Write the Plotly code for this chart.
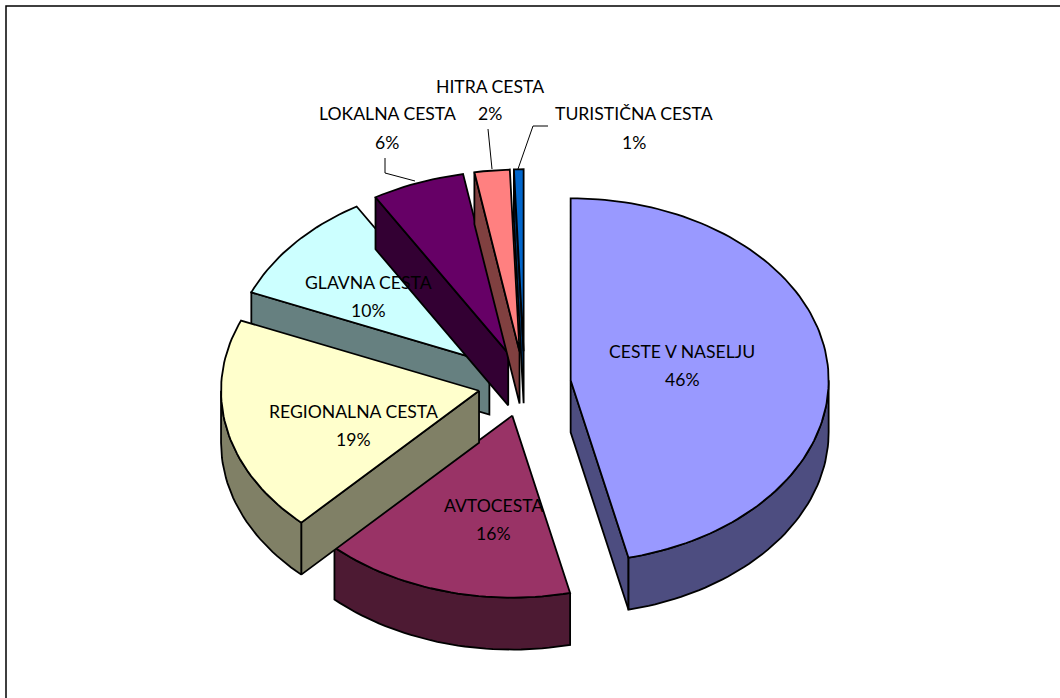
import numpy as np
import plotly.graph_objects as go

categories = ["CESTE V NASELJU", "AVTOCESTA", "REGIONALNA CESTA", "GLAVNA CESTA",
              "LOKALNA CESTA", "HITRA CESTA", "TURISTIČNA CESTA"]
shares = [46.4, 15.7, 19.2, 10.1, 5.8, 2.2, 0.6]
percent_labels = ["46%", "16%", "19%", "10%", "6%", "2%", "1%"]
top_colors = ["#9999FF", "#993366", "#FFFFCC", "#CCFFFF", "#660066", "#FF8080", "#0066CC"]
side_colors = ["#4D4D80", "#4D1A33", "#808066", "#668080", "#330033", "#804040", "#003366"]
paint_order = [0, 1, 3, 4, 5, 6, 2]

# chart geometry (pixel space of the page)
CX, CY, RX, RY, DEPTH, EXPLODE = 524.5, 384, 258, 182, 52, 0.18
label_x = [682, 493, 353, 368, 387, 490, 634]
name_y = [351, 505, 411, 282, 113, 86, 113]
pct_y = [379, 533, 439, 310, 142, 113, 142]
leader_paths = {4: [(385, 158), (385, 173), (415, 181)],
                5: [(488, 129), (492, 169)],
                6: [(548, 126), (533, 126), (518, 169)]}

fig = go.Figure()
def poly(pts, fill):
    xs, ys = zip(*pts)
    fig.add_trace(go.Scatter(x=list(xs) + [xs[0]], y=list(ys) + [ys[0]], mode="lines", fill="toself",
                             fillcolor=fill, line=dict(color="#000000", width=1.8),
                             hoverinfo="skip", showlegend=False))

total = sum(shares)
edges = np.concatenate([[0], np.cumsum(shares)]) / total * 360
for i in paint_order:
    a0, a1 = edges[i], edges[i + 1]
    mid = np.radians((a0 + a1) / 2)
    tx = CX + EXPLODE * RX * np.sin(mid)
    ty = CY - EXPLODE * RY * np.cos(mid)
    pt = lambda deg: (tx + RX * np.sin(np.radians(deg)), ty - RY * np.cos(np.radians(deg)))
    n = max(3, int((a1 - a0) / 1.5))
    arc = [pt(d) for d in np.linspace(a0, a1, n)]
    T = (tx, ty)
    down = lambda p: (p[0], p[1] + DEPTH)
    # radial faces that look towards the viewer
    if arc[0][0] < tx - 0.01:
        poly([T, arc[0], down(arc[0]), down(T)], side_colors[i])
    if arc[-1][0] > tx + 0.01:
        poly([T, arc[-1], down(arc[-1]), down(T)], side_colors[i])
    # rim
    lo, hi = max(a0, 90), min(a1, 270)
    if hi > lo:
        rim = [pt(d) for d in np.linspace(lo, hi, max(3, int((hi - lo) / 1.5)))]
        poly(rim + [down(p) for p in rim[::-1]], side_colors[i])
    poly([T] + arc, top_colors[i])

for i, path in leader_paths.items():
    xs, ys = zip(*path)
    fig.add_trace(go.Scatter(x=xs, y=ys, mode="lines", line=dict(color="#000000", width=1),
                             hoverinfo="skip", showlegend=False))

for i, name in enumerate(categories):
    for text, y in ((name, name_y[i]), (percent_labels[i], pct_y[i])):
        fig.add_annotation(x=label_x[i], y=y, text=text, showarrow=False,
                           font=dict(family="Lato", size=17.6, color="#000000"))

fig.update_layout(
    width=1060, height=698, margin=dict(l=0, r=0, t=0, b=0),
    paper_bgcolor="#FFFFFF", plot_bgcolor="#FFFFFF", showlegend=False,
    xaxis=dict(range=[0, 1060], visible=False, fixedrange=True),
    yaxis=dict(range=[698, 0], visible=False, fixedrange=True),
    shapes=[dict(type="rect", x0=6, y0=6, x1=1100, y1=740, line=dict(color="#000000", width=1.5), layer="below")],
)
fig.write_html("out.html", config={"displayModeBar": False},
               post_script="document.body.style.margin='0';document.documentElement.style.overflow='hidden';")
